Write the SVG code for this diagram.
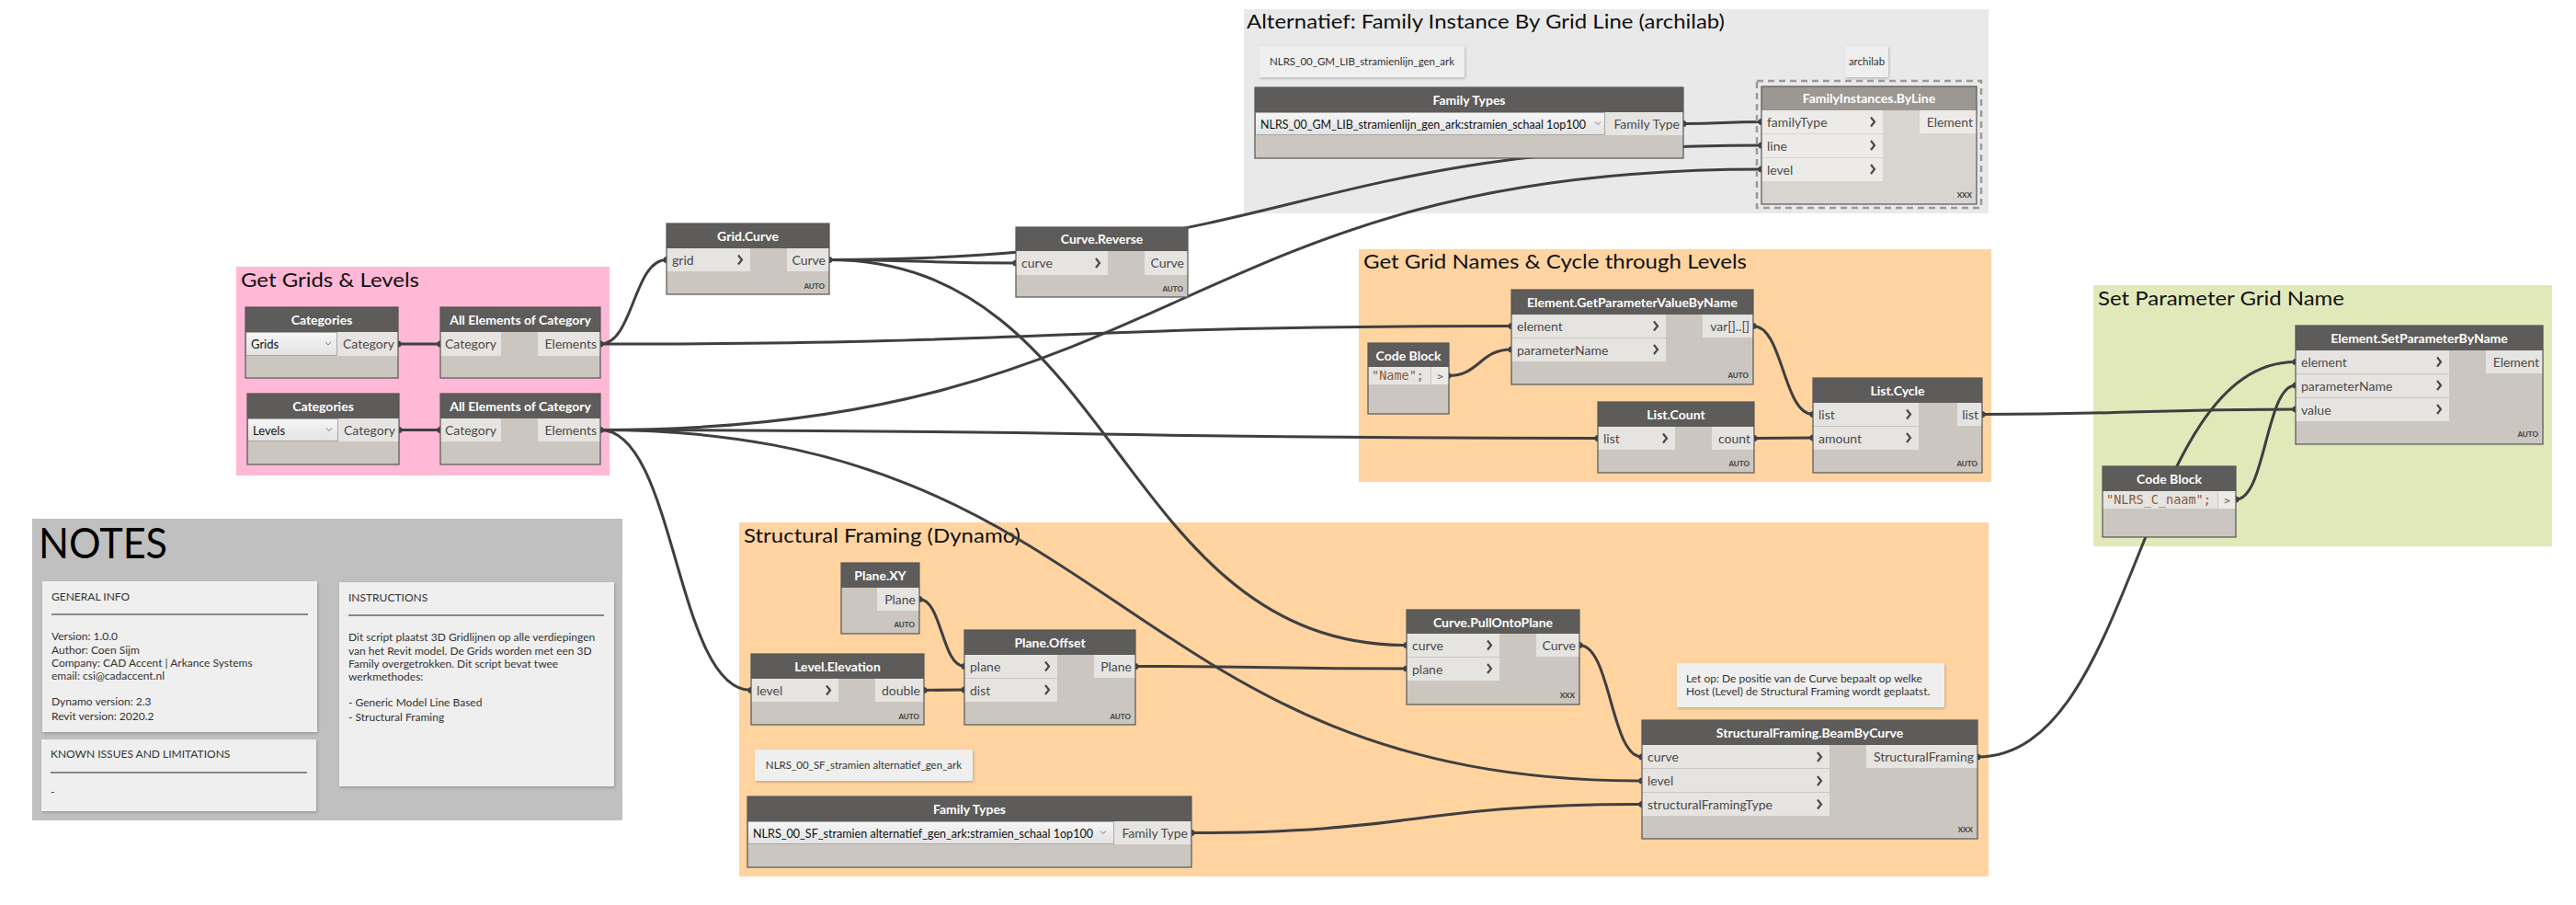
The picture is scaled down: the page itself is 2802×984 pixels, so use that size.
<svg xmlns="http://www.w3.org/2000/svg" width="2802" height="984" viewBox="0 0 2802 984">
<style>
.gt{font-family:Lato,"Noto Sans",sans-serif;font-size:22px;fill:#111}
.hd{fill:#5d5c5a}
.bd{fill:#cbc6bf}
.ol{fill:none;stroke:#555;stroke-width:1.2}
.pt{fill:#e6e4e1}
.ht{font-family:Lato,"Noto Sans",sans-serif;font-size:14px;font-weight:700;fill:#fff;text-anchor:middle}
.pl{font-family:Lato,"Noto Sans",sans-serif;font-size:14px;fill:#4a4a4a}
.pr{font-family:Lato,"Noto Sans",sans-serif;font-size:14px;fill:#4a4a4a;text-anchor:end}
.au{font-family:Lato,"Noto Sans",sans-serif;font-size:8px;font-weight:900;fill:#4a4a4a;text-anchor:end}
.ch{fill:none;stroke:#4a4a4a;stroke-width:2.2}
.w{fill:none;stroke:#3f3f3f;stroke-width:3}
.nub{fill:#3f3f3f}
.note{fill:#efefef;filter:url(#sh)}
.nt{font-family:Lato,"Noto Sans",sans-serif;font-size:12px;fill:#333}
.nc{font-family:Lato,"Noto Sans",sans-serif;font-size:11.5px;fill:#333;text-anchor:middle}
.dd{fill:url(#ddg);stroke:#a8a8a8;stroke-width:1}
.ddt{font-family:Lato,"Noto Sans",sans-serif;font-size:13px;fill:#111}
.ddc{fill:none;stroke:#777;stroke-width:1}
.code{font-family:"DejaVu Sans Mono","Liberation Mono",monospace;font-size:13.5px;fill:#8b5a36}
.cg{font-family:"DejaVu Sans Mono","Liberation Mono",monospace;font-size:11px;fill:#555;text-anchor:middle}
.fhd{fill:#9b9894}
.fbd{fill:#d8d5d1}
.fpt{fill:#edebe8}
</style>
<defs>
<linearGradient id="ddg" x1="0" y1="0" x2="0" y2="1"><stop offset="0" stop-color="#f6f6f6"/><stop offset="1" stop-color="#e2e2e2"/></linearGradient>
<filter id="sh" x="-5%" y="-10%" width="110%" height="130%"><feDropShadow dx="1" dy="1.5" stdDeviation="1.5" flood-opacity="0.22"/></filter>
</defs>
<rect width="2802" height="984" fill="#ffffff"/>

<!-- groups -->
<g id="grp-alternatief">
<rect x="1353" y="10" width="810" height="222" fill="#e9e9e9"/>
<text class="gt" x="1356" y="31" textLength="520" lengthAdjust="spacingAndGlyphs">Alternatief: Family Instance By Grid Line (archilab)</text>
</g>
<g id="grp-grids-levels">
<rect x="257" y="290" width="406" height="227" fill="#ffb8d6"/>
<text class="gt" x="262" y="312" textLength="194" lengthAdjust="spacingAndGlyphs">Get Grids &amp; Levels</text>
</g>
<g id="grp-gridnames">
<rect x="1478" y="271" width="688" height="253" fill="#ffd4a1"/>
<text class="gt" x="1483" y="292" textLength="417" lengthAdjust="spacingAndGlyphs">Get Grid Names &amp; Cycle through Levels</text>
</g>
<g id="grp-setparam">
<rect x="2277" y="310" width="499" height="284" fill="#e1e9bb"/>
<text class="gt" x="2282" y="332" textLength="268" lengthAdjust="spacingAndGlyphs">Set Parameter Grid Name</text>
</g>
<g id="grp-structural">
<rect x="804" y="568" width="1359" height="385" fill="#ffd4a1"/>
<text class="gt" x="809" y="590" textLength="301" lengthAdjust="spacingAndGlyphs">Structural Framing (Dynamo)</text>
</g>
<g id="grp-notes">
<rect x="35" y="564" width="642" height="328" fill="#c0c0c0"/>
<text x="42" y="607" font-family="Lato,'Noto Sans',sans-serif" font-size="46" fill="#000" textLength="140" lengthAdjust="spacingAndGlyphs">NOTES</text>
</g>

<!-- text notes -->
<g id="note-gm">
<rect class="note" x="1370" y="50" width="223" height="34"/>
<text class="nc" x="1481.5" y="71" textLength="201" lengthAdjust="spacingAndGlyphs">NLRS_00_GM_LIB_stramienlijn_gen_ark</text>
</g>
<g id="note-archilab">
<rect class="note" x="2007" y="50" width="47" height="34"/>
<text class="nc" x="2030.5" y="71">archilab</text>
</g>
<g id="note-general">
<rect class="note" x="46" y="632" width="299" height="164"/>
<text class="nt" x="56" y="653">GENERAL INFO</text>
<line x1="56" y1="668" x2="335" y2="668" stroke="#222" stroke-width="1"/>
<text class="nt" x="56" y="696">Version: 1.0.0</text>
<text class="nt" x="56" y="711">Author: Coen Sijm</text>
<text class="nt" x="56" y="725">Company: CAD Accent | Arkance Systems</text>
<text class="nt" x="56" y="739">email: csi@cadaccent.nl</text>
<text class="nt" x="56" y="767">Dynamo version: 2.3</text>
<text class="nt" x="56" y="783">Revit version: 2020.2</text>
</g>
<g id="note-known">
<rect class="note" x="45" y="804" width="299" height="78"/>
<text class="nt" x="55" y="824">KNOWN ISSUES AND LIMITATIONS</text>
<line x1="55" y1="840" x2="334" y2="840" stroke="#222" stroke-width="1"/>
<text class="nt" x="55" y="865">-</text>
</g>
<g id="note-instructions">
<rect class="note" x="369" y="633" width="299" height="222"/>
<text class="nt" x="379" y="654">INSTRUCTIONS</text>
<line x1="379" y1="669" x2="657" y2="669" stroke="#222" stroke-width="1"/>
<text class="nt" x="379" y="697">Dit script plaatst 3D Gridlijnen op alle verdiepingen</text>
<text class="nt" x="379" y="712">van het Revit model. De Grids worden met een 3D</text>
<text class="nt" x="379" y="726">Family overgetrokken. Dit script bevat twee</text>
<text class="nt" x="379" y="740">werkmethodes:</text>
<text class="nt" x="379" y="768">- Generic Model Line Based</text>
<text class="nt" x="379" y="784">- Structural Framing</text>
</g>
<g id="note-letop">
<rect class="note" x="1824" y="721" width="291" height="48"/>
<text class="nt" x="1834" y="742" font-size="11.5">Let op: De positie van de Curve bepaalt op welke</text>
<text class="nt" x="1834" y="756" font-size="11.5">Host (Level) de Structural Framing wordt geplaatst.</text>
</g>
<g id="note-sf">
<rect class="note" x="821" y="815" width="237" height="34"/>
<text class="nc" x="939.5" y="836">NLRS_00_SF_stramien alternatief_gen_ark</text>
</g>

<!-- connectors -->
<g id="connectors">
<path class="w" d="M433,374 L479,374"/>
<path class="w" d="M434,467.5 L479,467.5"/>
<path class="w" d="M653,374 C689,374 689,282.5 725,282.5"/>
<path class="w" d="M653,374 C1148.5,374 1148.5,354.5 1644,354.5"/>
<path class="w" d="M653,467.5 C1284.5,467.5 1284.5,184 1916,184"/>
<path class="w" d="M653,467.5 C1195.5,467.5 1195.5,476.5 1738,476.5"/>
<path class="w" d="M653,467.5 C735,467.5 735,750.5 817,750.5"/>
<path class="w" d="M653,467.5 C1219.5,467.5 1219.5,849 1786,849"/>
<path class="w" d="M902,282.5 C1003.5,282.5 1003.5,286 1105,286"/>
<path class="w" d="M902,282.5 C1409,282.5 1409,158 1916,158"/>
<path class="w" d="M902,282.5 C1216,282.5 1216,701.5 1530,701.5"/>
<path class="w" d="M1831,134.5 C1873.5,134.5 1873.5,132.5 1916,132.5"/>
<path class="w" d="M1575,408.5 C1609.5,408.5 1609.5,380 1644,380"/>
<path class="w" d="M1907,354.5 C1939.5,354.5 1939.5,450.5 1972,450.5"/>
<path class="w" d="M1908,476.5 L1972,476"/>
<path class="w" d="M2156,450.5 C2326.5,450.5 2326.5,445 2497,445"/>
<path class="w" d="M2432,543 C2464.5,543 2464.5,419 2497,419"/>
<path class="w" d="M2151,823 C2324,823 2324,393.5 2497,393.5"/>
<path class="w" d="M1000,651.5 C1024.5,651.5 1024.5,724.5 1049,724.5"/>
<path class="w" d="M1005,750.5 L1049,750"/>
<path class="w" d="M1235,724.5 C1382.5,724.5 1382.5,727 1530,727"/>
<path class="w" d="M1718,701.5 C1752,701.5 1752,823 1786,823"/>
<path class="w" d="M1296,905.5 C1541,905.5 1541,874.5 1786,874.5"/>
<g class="nub">
<circle cx="433" cy="374" r="3.5"/><circle cx="479" cy="374" r="3.5"/>
<circle cx="434" cy="467.5" r="3.5"/><circle cx="479" cy="467.5" r="3.5"/>
<circle cx="653" cy="374" r="3.5"/><circle cx="653" cy="467.5" r="3.5"/>
<circle cx="725" cy="282.5" r="3.5"/><circle cx="902" cy="282.5" r="3.5"/>
<circle cx="1105" cy="286" r="3.5"/>
<circle cx="1831" cy="134.5" r="3.5"/><circle cx="1916" cy="132.5" r="3.5"/><circle cx="1916" cy="158" r="3.5"/><circle cx="1916" cy="184" r="3.5"/>
<circle cx="1644" cy="354.5" r="3.5"/><circle cx="1644" cy="380" r="3.5"/><circle cx="1907" cy="354.5" r="3.5"/>
<circle cx="1575" cy="408.5" r="3.5"/>
<circle cx="1738" cy="476.5" r="3.5"/><circle cx="1908" cy="476.5" r="3.5"/>
<circle cx="1972" cy="450.5" r="3.5"/><circle cx="1972" cy="476" r="3.5"/><circle cx="2156" cy="450.5" r="3.5"/>
<circle cx="2497" cy="393.5" r="3.5"/><circle cx="2497" cy="419" r="3.5"/><circle cx="2497" cy="445" r="3.5"/>
<circle cx="2432" cy="543" r="3.5"/>
<circle cx="1000" cy="651.5" r="3.5"/><circle cx="817" cy="750.5" r="3.5"/><circle cx="1005" cy="750.5" r="3.5"/>
<circle cx="1049" cy="724.5" r="3.5"/><circle cx="1049" cy="750" r="3.5"/><circle cx="1235" cy="724.5" r="3.5"/>
<circle cx="1530" cy="701.5" r="3.5"/><circle cx="1530" cy="727" r="3.5"/><circle cx="1718" cy="701.5" r="3.5"/>
<circle cx="1786" cy="823" r="3.5"/><circle cx="1786" cy="849" r="3.5"/><circle cx="1786" cy="874.5" r="3.5"/><circle cx="2151" cy="823" r="3.5"/>
<circle cx="1296" cy="905.5" r="3.5"/>
</g>
</g>

<!-- nodes -->
<g id="n-cat-grids">
<rect class="bd" x="267" y="334" width="166" height="77"/>
<rect class="hd" x="267" y="334" width="166" height="27"/>
<text class="ht" x="350" y="352.5">Categories</text>
<rect class="dd" x="267.5" y="361.5" width="99" height="25"/>
<text class="ddt" x="273" y="379">Grids</text>
<polyline class="ddc" points="354,372 357,375 360,372"/>
<rect class="pt" x="367" y="361" width="66" height="26"/>
<text class="pr" x="429" y="379">Category</text>
<rect class="ol" x="267" y="334" width="166" height="77"/>
</g>
<g id="n-cat-levels">
<rect class="bd" x="269" y="428" width="165" height="77"/>
<rect class="hd" x="269" y="428" width="165" height="27"/>
<text class="ht" x="351.5" y="446.5">Categories</text>
<rect class="dd" x="269.5" y="455.5" width="98" height="24"/>
<text class="ddt" x="275" y="472.5">Levels</text>
<polyline class="ddc" points="355,465.5 358,468.5 361,465.5"/>
<rect class="pt" x="368" y="455" width="66" height="25"/>
<text class="pr" x="430" y="472.5">Category</text>
<rect class="ol" x="269" y="428" width="165" height="77"/>
</g>
<g id="n-allel-grids">
<rect class="bd" x="479" y="334" width="174" height="77"/>
<rect class="hd" x="479" y="334" width="174" height="27"/>
<text class="ht" x="566" y="352.5">All Elements of Category</text>
<rect class="pt" x="479" y="361" width="66" height="26"/>
<text class="pl" x="484" y="379">Category</text>
<rect class="pt" x="585" y="361" width="68" height="26"/>
<text class="pr" x="649" y="379">Elements</text>
<rect class="ol" x="479" y="334" width="174" height="77"/>
</g>
<g id="n-allel-levels">
<rect class="bd" x="479" y="428" width="174" height="77"/>
<rect class="hd" x="479" y="428" width="174" height="27"/>
<text class="ht" x="566" y="446.5">All Elements of Category</text>
<rect class="pt" x="479" y="455" width="66" height="25"/>
<text class="pl" x="484" y="472.5">Category</text>
<rect class="pt" x="585" y="455" width="68" height="25"/>
<text class="pr" x="649" y="472.5">Elements</text>
<rect class="ol" x="479" y="428" width="174" height="77"/>
</g>
<g id="n-grid-curve">
<rect class="bd" x="725" y="243" width="177" height="77"/>
<rect class="hd" x="725" y="243" width="177" height="27"/>
<text class="ht" x="813.5" y="261.5">Grid.Curve</text>
<rect class="pt" x="725" y="270" width="91" height="25"/>
<text class="pl" x="731" y="287.5">grid</text>
<polyline class="ch" points="803,277.5 807,282.5 803,287.5"/>
<rect class="pt" x="856" y="270" width="46" height="25"/>
<text class="pr" x="898" y="287.5">Curve</text>
<text class="au" x="897" y="314">AUTO</text>
<rect class="ol" x="725" y="243" width="177" height="77"/>
</g>
<g id="n-curve-reverse">
<rect class="bd" x="1105" y="247" width="187" height="76"/>
<rect class="hd" x="1105" y="247" width="187" height="26"/>
<text class="ht" x="1198.5" y="265">Curve.Reverse</text>
<rect class="pt" x="1105" y="273" width="100" height="26"/>
<text class="pl" x="1111" y="291">curve</text>
<polyline class="ch" points="1192,281 1196,286 1192,291"/>
<rect class="pt" x="1245" y="273" width="47" height="26"/>
<text class="pr" x="1288" y="291">Curve</text>
<text class="au" x="1287" y="317">AUTO</text>
<rect class="ol" x="1105" y="247" width="187" height="76"/>
</g>
<g id="n-familytypes-gm">
<rect class="bd" x="1365" y="95" width="466" height="77"/>
<rect class="hd" x="1365" y="95" width="466" height="27"/>
<text class="ht" x="1598" y="113.5">Family Types</text>
<rect class="dd" x="1365.5" y="122.5" width="380" height="24"/>
<text class="ddt" x="1371" y="139.5" font-size="12.5" textLength="354" lengthAdjust="spacingAndGlyphs">NLRS_00_GM_LIB_stramienlijn_gen_ark:stramien_schaal 1op100</text>
<polyline class="ddc" points="1735,132.5 1738,135.5 1741,132.5"/>
<rect class="pt" x="1746" y="122" width="85" height="25"/>
<text class="pr" x="1827" y="140">Family Type</text>
<rect class="ol" x="1365" y="95" width="466" height="77"/>
</g>
<g id="n-familyinstances-byline">
<rect x="1911" y="88" width="244" height="138" fill="none" stroke="#9a9a9a" stroke-width="2.5" stroke-dasharray="7 5"/>
<rect class="fbd" x="1916" y="94" width="234" height="128"/>
<rect class="fhd" x="1916" y="94" width="234" height="26"/>
<text class="ht" x="2033" y="112">FamilyInstances.ByLine</text>
<rect class="fpt" x="1916" y="120" width="132" height="25"/>
<rect class="fpt" x="1916" y="146" width="132" height="25"/>
<rect class="fpt" x="1916" y="172" width="132" height="25"/>
<text class="pl" x="1922" y="137.5">familyType</text>
<text class="pl" x="1922" y="163.5">line</text>
<text class="pl" x="1922" y="189.5">level</text>
<polyline class="ch" points="2035,127.5 2039,132.5 2035,137.5"/>
<polyline class="ch" points="2035,153 2039,158 2035,163"/>
<polyline class="ch" points="2035,179 2039,184 2035,189"/>
<rect class="fpt" x="2088" y="120" width="62" height="25"/>
<text class="pr" x="2146" y="137.5">Element</text>
<text class="au" x="2145" y="215" font-weight="400">XXX</text>
<rect class="ol" x="1916" y="94" width="234" height="128" stroke="#777"/>
</g>
<g id="n-getparam">
<rect class="bd" x="1644" y="315" width="263" height="103"/>
<rect class="hd" x="1644" y="315" width="263" height="27"/>
<text class="ht" x="1775.5" y="333.5">Element.GetParameterValueByName</text>
<rect class="pt" x="1644" y="342" width="168" height="25"/>
<rect class="pt" x="1644" y="368" width="168" height="25"/>
<text class="pl" x="1650" y="359.5">element</text>
<text class="pl" x="1650" y="385.5">parameterName</text>
<polyline class="ch" points="1799,349.5 1803,354.5 1799,359.5"/>
<polyline class="ch" points="1799,375 1803,380 1799,385"/>
<rect class="pt" x="1852" y="342" width="55" height="25"/>
<text class="pr" x="1903" y="359.5">var[]..[]</text>
<text class="au" x="1902" y="411">AUTO</text>
<rect class="ol" x="1644" y="315" width="263" height="103"/>
</g>
<g id="n-codeblock-name">
<rect class="bd" x="1488" y="373" width="88" height="77"/>
<rect class="hd" x="1488" y="373" width="88" height="26"/>
<text class="ht" x="1532" y="391.5">Code Block</text>
<rect class="pt" x="1488" y="399" width="68" height="19"/>
<text class="code" x="1492" y="413">"Name";</text>
<rect x="1557" y="399" width="19" height="19" fill="#eceae7"/>
<text class="cg" x="1566.5" y="412.5">&gt;</text>
<rect class="ol" x="1488" y="373" width="88" height="77"/>
</g>
<g id="n-list-count">
<rect class="bd" x="1738" y="437" width="170" height="77"/>
<rect class="hd" x="1738" y="437" width="170" height="27"/>
<text class="ht" x="1823" y="455.5">List.Count</text>
<rect class="pt" x="1738" y="464" width="84" height="25"/>
<text class="pl" x="1744" y="481.5">list</text>
<polyline class="ch" points="1809,471.5 1813,476.5 1809,481.5"/>
<rect class="pt" x="1862" y="464" width="46" height="25"/>
<text class="pr" x="1904" y="481.5">count</text>
<text class="au" x="1903" y="507">AUTO</text>
<rect class="ol" x="1738" y="437" width="170" height="77"/>
</g>
<g id="n-list-cycle">
<rect class="bd" x="1972" y="411" width="184" height="103"/>
<rect class="hd" x="1972" y="411" width="184" height="27"/>
<text class="ht" x="2064" y="429.5">List.Cycle</text>
<rect class="pt" x="1972" y="438" width="115" height="25"/>
<rect class="pt" x="1972" y="464" width="115" height="25"/>
<text class="pl" x="1978" y="455.5">list</text>
<text class="pl" x="1978" y="481.5">amount</text>
<polyline class="ch" points="2074,445.5 2078,450.5 2074,455.5"/>
<polyline class="ch" points="2074,471 2078,476 2074,481"/>
<rect class="pt" x="2129" y="438" width="27" height="25"/>
<text class="pr" x="2152" y="455.5">list</text>
<text class="au" x="2151" y="507">AUTO</text>
<rect class="ol" x="1972" y="411" width="184" height="103"/>
</g>
<g id="n-setparam">
<rect class="bd" x="2497" y="354" width="269" height="129"/>
<rect class="hd" x="2497" y="354" width="269" height="27"/>
<text class="ht" x="2631.5" y="372.5">Element.SetParameterByName</text>
<rect class="pt" x="2497" y="381" width="167" height="25"/>
<rect class="pt" x="2497" y="407" width="167" height="25"/>
<rect class="pt" x="2497" y="433" width="167" height="25"/>
<text class="pl" x="2503" y="398.5">element</text>
<text class="pl" x="2503" y="424.5">parameterName</text>
<text class="pl" x="2503" y="450.5">value</text>
<polyline class="ch" points="2651,388.5 2655,393.5 2651,398.5"/>
<polyline class="ch" points="2651,414 2655,419 2651,424"/>
<polyline class="ch" points="2651,440 2655,445 2651,450"/>
<rect class="pt" x="2704" y="381" width="62" height="25"/>
<text class="pr" x="2762" y="398.5">Element</text>
<text class="au" x="2761" y="475">AUTO</text>
<rect class="ol" x="2497" y="354" width="269" height="129"/>
</g>
<g id="n-codeblock-naam">
<rect class="bd" x="2287" y="507" width="145" height="77"/>
<rect class="hd" x="2287" y="507" width="145" height="27"/>
<text class="ht" x="2359.5" y="525.5">Code Block</text>
<rect class="pt" x="2287" y="534" width="125" height="19"/>
<text class="code" x="2291" y="548">"NLRS_C_naam";</text>
<rect x="2413" y="534" width="19" height="19" fill="#eceae7"/>
<text class="cg" x="2422.5" y="547.5">&gt;</text>
<rect class="ol" x="2287" y="507" width="145" height="77"/>
</g>
<g id="n-plane-xy">
<rect class="bd" x="915" y="612" width="85" height="77"/>
<rect class="hd" x="915" y="612" width="85" height="27"/>
<text class="ht" x="957.5" y="630.5">Plane.XY</text>
<rect class="pt" x="954" y="639" width="46" height="25"/>
<text class="pr" x="996" y="656.5">Plane</text>
<text class="au" x="995" y="682">AUTO</text>
<rect class="ol" x="915" y="612" width="85" height="77"/>
</g>
<g id="n-level-elevation">
<rect class="bd" x="817" y="711" width="188" height="77"/>
<rect class="hd" x="817" y="711" width="188" height="27"/>
<text class="ht" x="911" y="729.5">Level.Elevation</text>
<rect class="pt" x="817" y="738" width="95" height="25"/>
<text class="pl" x="823" y="755.5">level</text>
<polyline class="ch" points="899,745.5 903,750.5 899,755.5"/>
<rect class="pt" x="952" y="738" width="53" height="25"/>
<text class="pr" x="1001" y="755.5">double</text>
<text class="au" x="1000" y="782">AUTO</text>
<rect class="ol" x="817" y="711" width="188" height="77"/>
</g>
<g id="n-plane-offset">
<rect class="bd" x="1049" y="685" width="186" height="103"/>
<rect class="hd" x="1049" y="685" width="186" height="27"/>
<text class="ht" x="1142" y="703.5">Plane.Offset</text>
<rect class="pt" x="1049" y="712" width="101" height="25"/>
<rect class="pt" x="1049" y="738" width="101" height="25"/>
<text class="pl" x="1055" y="729.5">plane</text>
<text class="pl" x="1055" y="755.5">dist</text>
<polyline class="ch" points="1137,719.5 1141,724.5 1137,729.5"/>
<polyline class="ch" points="1137,745 1141,750 1137,755"/>
<rect class="pt" x="1190" y="712" width="45" height="25"/>
<text class="pr" x="1231" y="729.5">Plane</text>
<text class="au" x="1230" y="782">AUTO</text>
<rect class="ol" x="1049" y="685" width="186" height="103"/>
</g>
<g id="n-pullontoplane">
<rect class="bd" x="1530" y="663" width="188" height="103"/>
<rect class="hd" x="1530" y="663" width="188" height="26"/>
<text class="ht" x="1624" y="681.5">Curve.PullOntoPlane</text>
<rect class="pt" x="1530" y="689" width="101" height="25"/>
<rect class="pt" x="1530" y="715" width="101" height="25"/>
<text class="pl" x="1536" y="706.5">curve</text>
<text class="pl" x="1536" y="732.5">plane</text>
<polyline class="ch" points="1618,696.5 1622,701.5 1618,706.5"/>
<polyline class="ch" points="1618,722 1622,727 1618,732"/>
<rect class="pt" x="1671" y="689" width="47" height="25"/>
<text class="pr" x="1714" y="706.5">Curve</text>
<text class="au" x="1713" y="759" font-weight="400">XXX</text>
<rect class="ol" x="1530" y="663" width="188" height="103"/>
</g>
<g id="n-beambycurve">
<rect class="bd" x="1786" y="783" width="365" height="129"/>
<rect class="hd" x="1786" y="783" width="365" height="27"/>
<text class="ht" x="1968.5" y="801.5">StructuralFraming.BeamByCurve</text>
<rect class="pt" x="1786" y="810" width="204" height="25"/>
<rect class="pt" x="1786" y="836" width="204" height="25"/>
<rect class="pt" x="1786" y="862" width="204" height="25"/>
<text class="pl" x="1792" y="827.5">curve</text>
<text class="pl" x="1792" y="853.5">level</text>
<text class="pl" x="1792" y="879.5">structuralFramingType</text>
<polyline class="ch" points="1977,818 1981,823 1977,828"/>
<polyline class="ch" points="1977,844 1981,849 1977,854"/>
<polyline class="ch" points="1977,869.5 1981,874.5 1977,879.5"/>
<rect class="pt" x="2030" y="810" width="121" height="25"/>
<text class="pr" x="2147" y="827.5">StructuralFraming</text>
<text class="au" x="2146" y="905" font-weight="400">XXX</text>
<rect class="ol" x="1786" y="783" width="365" height="129"/>
</g>
<g id="n-familytypes-sf">
<rect class="bd" x="813" y="866" width="483" height="77"/>
<rect class="hd" x="813" y="866" width="483" height="27"/>
<text class="ht" x="1054.5" y="884.5">Family Types</text>
<rect class="dd" x="813.5" y="893.5" width="398" height="24"/>
<text class="ddt" x="819" y="910.5" font-size="12.5" textLength="370" lengthAdjust="spacingAndGlyphs">NLRS_00_SF_stramien alternatief_gen_ark:stramien_schaal 1op100</text>
<polyline class="ddc" points="1197,903.5 1200,906.5 1203,903.5"/>
<rect class="pt" x="1212" y="893" width="84" height="25"/>
<text class="pr" x="1292" y="910.5">Family Type</text>
<rect class="ol" x="813" y="866" width="483" height="77"/>
</g>
</svg>
